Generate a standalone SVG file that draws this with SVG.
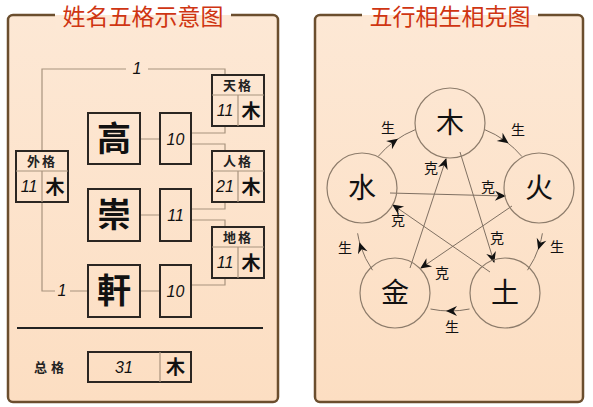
<svg xmlns="http://www.w3.org/2000/svg" width="593" height="407" viewBox="0 0 593 407">
<defs>
<linearGradient id="bg" x1="0" y1="0" x2="0" y2="1">
<stop offset="0" stop-color="#fde8d5"/>
<stop offset="1" stop-color="#fcdec2"/>
</linearGradient>
<linearGradient id="tbg" x1="0" y1="0" x2="0" y2="1">
<stop offset="0" stop-color="#ffffff"/>
<stop offset="0.46" stop-color="#ffffff"/>
<stop offset="0.46" stop-color="#fde8d5"/>
<stop offset="1" stop-color="#fde8d5"/>
</linearGradient>
<marker id="ah" viewBox="-12 -6 14 12" refX="0" refY="0" markerWidth="14" markerHeight="12" markerUnits="userSpaceOnUse" orient="auto">
<path d="M1,0 L-10,-5 L-6.5,0 L-10,5 Z" fill="#111"/>
</marker>
<marker id="am" viewBox="-12 -6 14 12" refX="-3" refY="0" markerWidth="14" markerHeight="12" markerUnits="userSpaceOnUse" orient="auto">
<path d="M1,0 L-10,-5 L-6.5,0 L-10,5 Z" fill="#111"/>
</marker>
</defs>
<style>
.panel{fill:url(#bg);}
.tbg{fill:url(#tbg);}
.border{fill:none;stroke:#6b4e2e;stroke-width:2.5;}
.title{font-family:"Noto Sans CJK SC","Noto Sans",sans-serif;font-size:23px;fill:#cf3512;text-anchor:middle;}
.box{fill:none;stroke:#2b2622;stroke-width:2;}
.div{fill:none;stroke:#a8937e;stroke-width:1.2;}
.conn{fill:none;stroke:#a8937e;stroke-width:1.2;}
.big{font-family:"Noto Sans CJK TC","Noto Sans CJK SC",serif;font-size:34px;font-weight:700;fill:#111;text-anchor:middle;}
.num{font-family:"Liberation Sans",sans-serif;font-style:italic;font-size:16px;fill:#111;text-anchor:middle;}
.hdr{font-family:"Noto Sans CJK SC",sans-serif;font-size:13px;font-weight:700;fill:#222;text-anchor:middle;}
.el{font-family:"Noto Sans CJK SC",sans-serif;font-size:19px;font-weight:700;fill:#111;text-anchor:middle;}
.circ{fill:none;stroke:#8d7c6b;stroke-width:1.2;}
.ctext{font-family:"Noto Sans CJK SC",sans-serif;font-size:28px;fill:#111;text-anchor:middle;}
.lbl{font-family:"Noto Sans CJK SC",sans-serif;font-size:14px;fill:#111;text-anchor:middle;}
.wl{fill:none;stroke:#7f7062;stroke-width:1;}
</style>

<!-- Left panel -->
<rect class="panel" x="8" y="15" width="270" height="387" rx="5"/>
<rect class="tbg" x="56" y="2" width="174" height="28"/>
<path class="border" d="M55,15 H13 A5,5 0 0 0 8,20 V397 A5,5 0 0 0 13,402 H273 A5,5 0 0 0 278,397 V20 A5,5 0 0 0 273,15 H231"/>
<text class="title" x="143" y="25">姓名五格示意图</text>

<g id="connectors-left">
<path class="conn" d="M42,151 V69 H126 M148,69 H225 V75"/>
<path class="conn" d="M42,202 V291 H55 M70,291 H88"/>
<path class="conn" d="M140,139 H160 M140,215 H160 M140,291 H160"/>
<path class="conn" d="M191,133 H225 V126 M191,144 H225 V151 M191,209 H225 V202 M191,220 H225 V227 M191,285 H225 V278"/>
<text class="num" x="137" y="74" font-size="14">1</text>
<text class="num" x="62" y="296" font-size="14">1</text>
</g>

<g id="char-gao">
<rect class="box" x="88" y="113" width="52" height="51"/>
<text class="big" x="114" y="151">高</text>
</g>
<g id="char-chong">
<rect class="box" x="88" y="189" width="52" height="52"/>
<text class="big" x="114" y="227">崇</text>
</g>
<g id="char-xuan">
<rect class="box" x="88" y="265" width="52" height="52"/>
<text class="big" x="114" y="303">軒</text>
</g>

<g id="num-10a">
<rect class="box" x="160" y="113" width="31" height="51"/>
<text class="num" x="175.5" y="145">10</text>
</g>
<g id="num-11">
<rect class="box" x="160" y="189" width="31" height="52"/>
<text class="num" x="175.5" y="221">11</text>
</g>
<g id="num-10b">
<rect class="box" x="160" y="265" width="31" height="52"/>
<text class="num" x="175.5" y="297">10</text>
</g>

<g id="ge-tian">
<rect class="box" x="212" y="75" width="52" height="51"/>
<path class="div" d="M212,95 H264 M238,95 V126"/>
<text class="hdr" x="238" y="90" letter-spacing="2">天格</text>
<text class="num" x="225" y="116">11</text>
<text class="el" x="251" y="118">木</text>
</g>
<g id="ge-wai">
<rect class="box" x="16" y="151" width="52" height="51"/>
<path class="div" d="M16,171 H68 M42,171 V202"/>
<text class="hdr" x="42" y="166" letter-spacing="2">外格</text>
<text class="num" x="29" y="192">11</text>
<text class="el" x="55" y="194">木</text>
</g>
<g id="ge-ren">
<rect class="box" x="212" y="151" width="52" height="51"/>
<path class="div" d="M212,171 H264 M238,171 V202"/>
<text class="hdr" x="238" y="166" letter-spacing="2">人格</text>
<text class="num" x="225" y="192">21</text>
<text class="el" x="251" y="194">木</text>
</g>
<g id="ge-di">
<rect class="box" x="212" y="227" width="52" height="51"/>
<path class="div" d="M212,247 H264 M238,247 V278"/>
<text class="hdr" x="238" y="242" letter-spacing="2">地格</text>
<text class="num" x="225" y="268">11</text>
<text class="el" x="251" y="270">木</text>
</g>

<line x1="17" y1="328" x2="263" y2="328" stroke="#222" stroke-width="2"/>

<g id="ge-zong">
<text class="hdr" x="51" y="372" font-size="14" letter-spacing="4">总格</text>
<rect class="box" x="88" y="352" width="103" height="30"/>
<path class="div" d="M160,352 V382"/>
<text class="num" x="124" y="373">31</text>
<text class="el" x="175.5" y="374">木</text>
</g>

<!-- Right panel -->
<rect class="panel" x="315" y="15" width="268" height="387" rx="5"/>
<rect class="tbg" x="363" y="2" width="174" height="28"/>
<path class="border" d="M362,15 H320 A5,5 0 0 0 315,20 V397 A5,5 0 0 0 320,402 H578 A5,5 0 0 0 583,397 V20 A5,5 0 0 0 578,15 H538"/>
<text class="title" x="450" y="25">五行相生相克图</text>

<g id="connectors-right">
<path class="wl" marker-mid="url(#am)" d="M484.4,129.5 A94,94 0 0 1 505.3,141 A94,94 0 0 1 522,156.6"/>
<path class="wl" marker-mid="url(#am)" d="M542.4,233.3 A94,94 0 0 1 539.4,246 A94,94 0 0 1 527.5,270.2"/>
<path class="wl" marker-mid="url(#am)" d="M469.5,309 A94,94 0 0 1 450,311 A94,94 0 0 1 430.5,309"/>
<path class="wl" marker-mid="url(#am)" d="M372.5,270.2 A94,94 0 0 1 360.6,246 A94,94 0 0 1 357.6,233.3"/>
<path class="wl" marker-mid="url(#am)" d="M378,156.6 A94,94 0 0 1 394.7,141 A94,94 0 0 1 415.6,129.5"/>
<path class="wl" marker-end="url(#ah)" d="M410,268 L446,159"/>
<path class="wl" marker-end="url(#ah)" d="M460,152 L494,262"/>
<path class="wl" marker-end="url(#ah)" d="M390,193 L505,196"/>
<path class="wl" marker-end="url(#ah)" d="M512,206 L421,268"/>
<path class="wl" marker-end="url(#ah)" d="M490,272 L393,205"/>
<text class="lbl" x="388" y="133">生</text>
<text class="lbl" x="518" y="135">生</text>
<text class="lbl" x="557" y="252">生</text>
<text class="lbl" x="345" y="253">生</text>
<text class="lbl" x="452" y="332">生</text>
<text class="lbl" x="431" y="173">克</text>
<text class="lbl" x="488" y="192">克</text>
<text class="lbl" x="398" y="225">克</text>
<text class="lbl" x="497" y="243">克</text>
<text class="lbl" x="442" y="278">克</text>
</g>

<g id="wood"><circle class="circ" cx="450" cy="123" r="35"/><text class="ctext" x="450" y="133">木</text></g>
<g id="fire"><circle class="circ" cx="539" cy="188" r="35"/><text class="ctext" x="539" y="198">火</text></g>
<g id="earth"><circle class="circ" cx="505" cy="293" r="35"/><text class="ctext" x="505" y="303">土</text></g>
<g id="metal"><circle class="circ" cx="395" cy="293" r="35"/><text class="ctext" x="395" y="303">金</text></g>
<g id="water"><circle class="circ" cx="362" cy="188" r="35"/><text class="ctext" x="362" y="198">水</text></g>
</svg>
